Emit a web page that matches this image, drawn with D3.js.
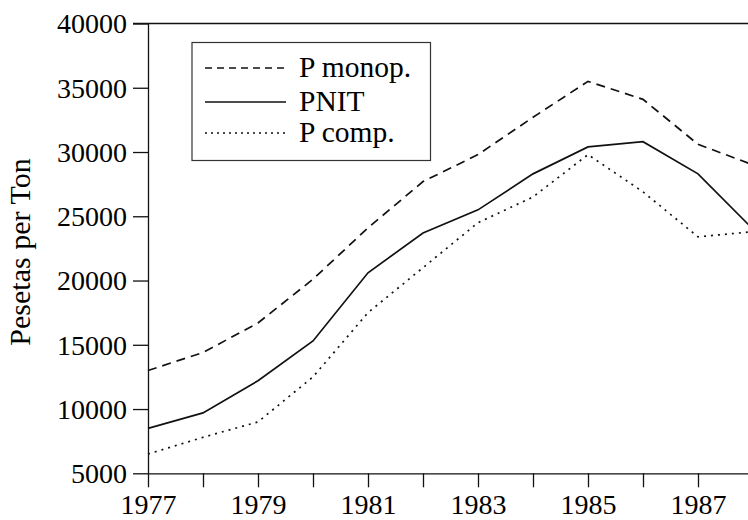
<!DOCTYPE html>
<html>
<head>
<meta charset="utf-8">
<script src="https://cdn.jsdelivr.net/npm/d3@7"></script>
<style>
  html, body { margin: 0; padding: 0; background: #fff; }
  svg { display: block; font-family: "Liberation Serif", "Times New Roman", serif; }
</style>
</head>
<body>
<div id="chart"></div>
<script>
// values (pesetas per ton)
const years = [1977, 1978, 1979, 1980, 1981, 1982, 1983, 1984, 1985, 1986, 1987, 1988];
const pMonop = [13000, 14400, 16700, 20100, 24100, 27700, 29800, 32700, 35500, 34100, 30600, 29000];
const pnit   = [8500, 9700, 12200, 15300, 20600, 23700, 25500, 28300, 30400, 30800, 28300, 24000];
const pComp  = [6500, 7800, 9000, 12500, 17500, 21000, 24500, 26500, 29800, 26900, 23400, 23800];
const yTicks = [5000, 10000, 15000, 20000, 25000, 30000, 35000, 40000];
const xLabels = [1977, 1979, 1981, 1983, 1985, 1987];

const seriesNames = ["P monop.", "PNIT", "P comp."];
const dashes = ["9,6", null, "2,5"];

const W = 748, H = 520;
const plotLeft = 148, plotTop = 23.5, plotBottom = 473.3;

const svg = d3.select("#chart").append("svg")
    .attr("width", W).attr("height", H);

const x = d3.scaleLinear().domain([1977, 1988]).range([plotLeft, plotLeft + 55 * 11]);
const y = d3.scaleLinear().domain([5000, 40000]).range([plotBottom, plotTop]);

// axes
const yAxis = svg.append("g")
    .attr("transform", `translate(${plotLeft},0)`)
    .call(d3.axisLeft(y).tickValues(yTicks).tickFormat(d3.format("d")).tickSize(15).tickSizeOuter(0).tickPadding(6));

const xAxis = svg.append("g")
    .attr("transform", `translate(0,${plotBottom})`)
    .call(d3.axisBottom(x).tickValues(years)
        .tickFormat(d => xLabels.includes(d) ? d : "")
        .tickSize(14).tickSizeOuter(0).tickPadding(9));

[yAxis, xAxis].forEach(g => {
    g.selectAll("path, line").attr("stroke", "#111").attr("stroke-width", 1.3);
    g.selectAll("text").attr("fill", "#000").style("font-size", "28px")
        .style("font-family", '"Liberation Serif", "Times New Roman", serif');
});
yAxis.selectAll("text").attr("dy", "0.33em");
xAxis.selectAll("text").attr("dy", "0.63em");

// top frame line
svg.append("line")
    .attr("x1", plotLeft - 15).attr("x2", W)
    .attr("y1", y(40000)).attr("y2", y(40000))
    .attr("stroke", "#111").attr("stroke-width", 1.3);

// y title
svg.append("text")
    .attr("transform", `translate(30,252) rotate(-90)`)
    .attr("text-anchor", "middle")
    .style("font-size", "30px")
    .text("Pesetas per Ton");

// lines
const line = d3.line().x((d, i) => x(years[i])).y(d => y(d));
[pMonop, pnit, pComp].forEach((vals, k) => {
    svg.append("path")
        .attr("d", line(vals))
        .attr("fill", "none")
        .attr("stroke", "#111")
        .attr("stroke-width", 1.7)
        .attr("stroke-dasharray", dashes[k]);
});

// legend
const lg = svg.append("g");
lg.append("rect")
    .attr("x", 192).attr("y", 42.5).attr("width", 238.5).attr("height", 118)
    .attr("fill", "#fff").attr("stroke", "#333").attr("stroke-width", 1.2);
const rowY = [68, 102, 133];
seriesNames.forEach((name, k) => {
    lg.append("line")
        .attr("x1", 205).attr("x2", 286)
        .attr("y1", rowY[k]).attr("y2", rowY[k])
        .attr("stroke", "#111").attr("stroke-width", 1.4)
        .attr("stroke-dasharray", dashes[k] ? (k === 0 ? "7,5" : "2,4") : null);
    lg.append("text")
        .attr("x", 299).attr("y", rowY[k] + 9)
        .style("font-size", "29.5px")
        .text(name);
});
</script>
</body>
</html>
